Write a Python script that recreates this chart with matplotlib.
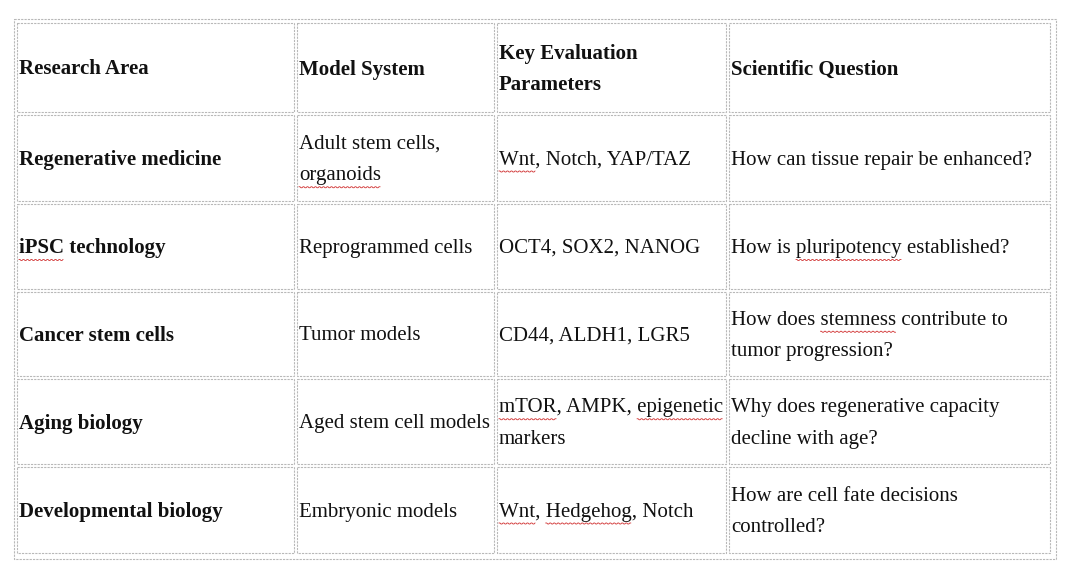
import numpy as np
import matplotlib
matplotlib.use('Agg')
import matplotlib.pyplot as plt
from matplotlib.patches import Rectangle

headers = ['Research Area', 'Model System', 'Key Evaluation\nParameters', 'Scientific Question']
areas = ['Regenerative medicine', 'iPSC technology', 'Cancer stem cells', 'Aging biology', 'Developmental biology']
models = ['Adult stem cells,\norganoids', 'Reprogrammed cells', 'Tumor models', 'Aged stem cell models', 'Embryonic models']
params = ['Wnt, Notch, YAP/TAZ', 'OCT4, SOX2, NANOG', 'CD44, ALDH1, LGR5', 'mTOR, AMPK, epigenetic\nmarkers', 'Wnt, Hedgehog, Notch']
questions = ['How can tissue repair be enhanced?', 'How is pluripotency established?',
             'How does stemness contribute to\ntumor progression?', 'Why does regenerative capacity\ndecline with age?',
             'How are cell fate decisions\ncontrolled?']
# words marked by the spell checker
marked = ['organoids', 'Wnt', 'iPSC', 'pluripotency', 'stemness', 'mTOR', 'epigenetic', 'Hedgehog']

W, H = 1069, 575
col_x = [17, 297, 497, 729, 1053]
row_y = [23, 115, 204, 292, 379, 467, 556]
gap = 3
fs = 15

fig = plt.figure(figsize=(W / 100, H / 100), dpi=100)
ax = fig.add_axes([0, 0, 1, 1])
ax.set_xlim(0, W)
ax.set_ylim(H, 0)
ax.axis('off')

bc = '#b8b8b8'
ax.add_patch(Rectangle((14, 19), 1042, 540, fill=False, ec=bc, lw=0.8, ls=(0, (2, 1))))

rows = [headers] + [list(r) for r in zip(areas, models, params, questions)]
texts = []
for i, row in enumerate(rows):
    y0, y1 = row_y[i], row_y[i + 1] - gap
    for j, s in enumerate(row):
        x0, x1 = col_x[j], col_x[j + 1] - gap
        ax.add_patch(Rectangle((x0, y0), x1 - x0, y1 - y0, fill=False, ec=bc, lw=0.8, ls=(0, (2, 1))))
        bold = (i == 0) or (j == 0)
        lines = s.split('\n')
        n = len(lines)
        cy = (y0 + y1) / 2 + 2
        for k, ln in enumerate(lines):
            ly = cy + (k - (n - 1) / 2) * 31.5
            t = ax.text(x0 + 2, ly, ln, fontsize=fs, family='Liberation Serif',
                        fontweight='bold' if bold else 'normal', va='center', ha='left', color='#111111')
            texts.append((t, ln, x0 + 2, ly, bold))

fig.canvas.draw()
r = fig.canvas.get_renderer()
for t, ln, x, ly, bold in texts:
    for w in marked:
        idx = ln.find(w)
        if idx < 0:
            continue
        kw = dict(fontsize=fs, family='Liberation Serif', fontweight='bold' if bold else 'normal')
        pre = ax.text(0, 0, ln[:idx], **kw) if idx > 0 else None
        wt = ax.text(0, 0, w, **kw)
        px = pre.get_window_extent(r).width if pre else 0
        ww = wt.get_window_extent(r).width
        if pre:
            pre.remove()
        wt.remove()
        xs = np.arange(x + px, x + px + ww, 1.0)
        ys = ly + 11 + 1.0 * ((np.arange(len(xs)) % 4) >= 2)
        ax.plot(xs, ys, color='#d03030', lw=0.6)

fig.savefig('out.png', dpi=100)
